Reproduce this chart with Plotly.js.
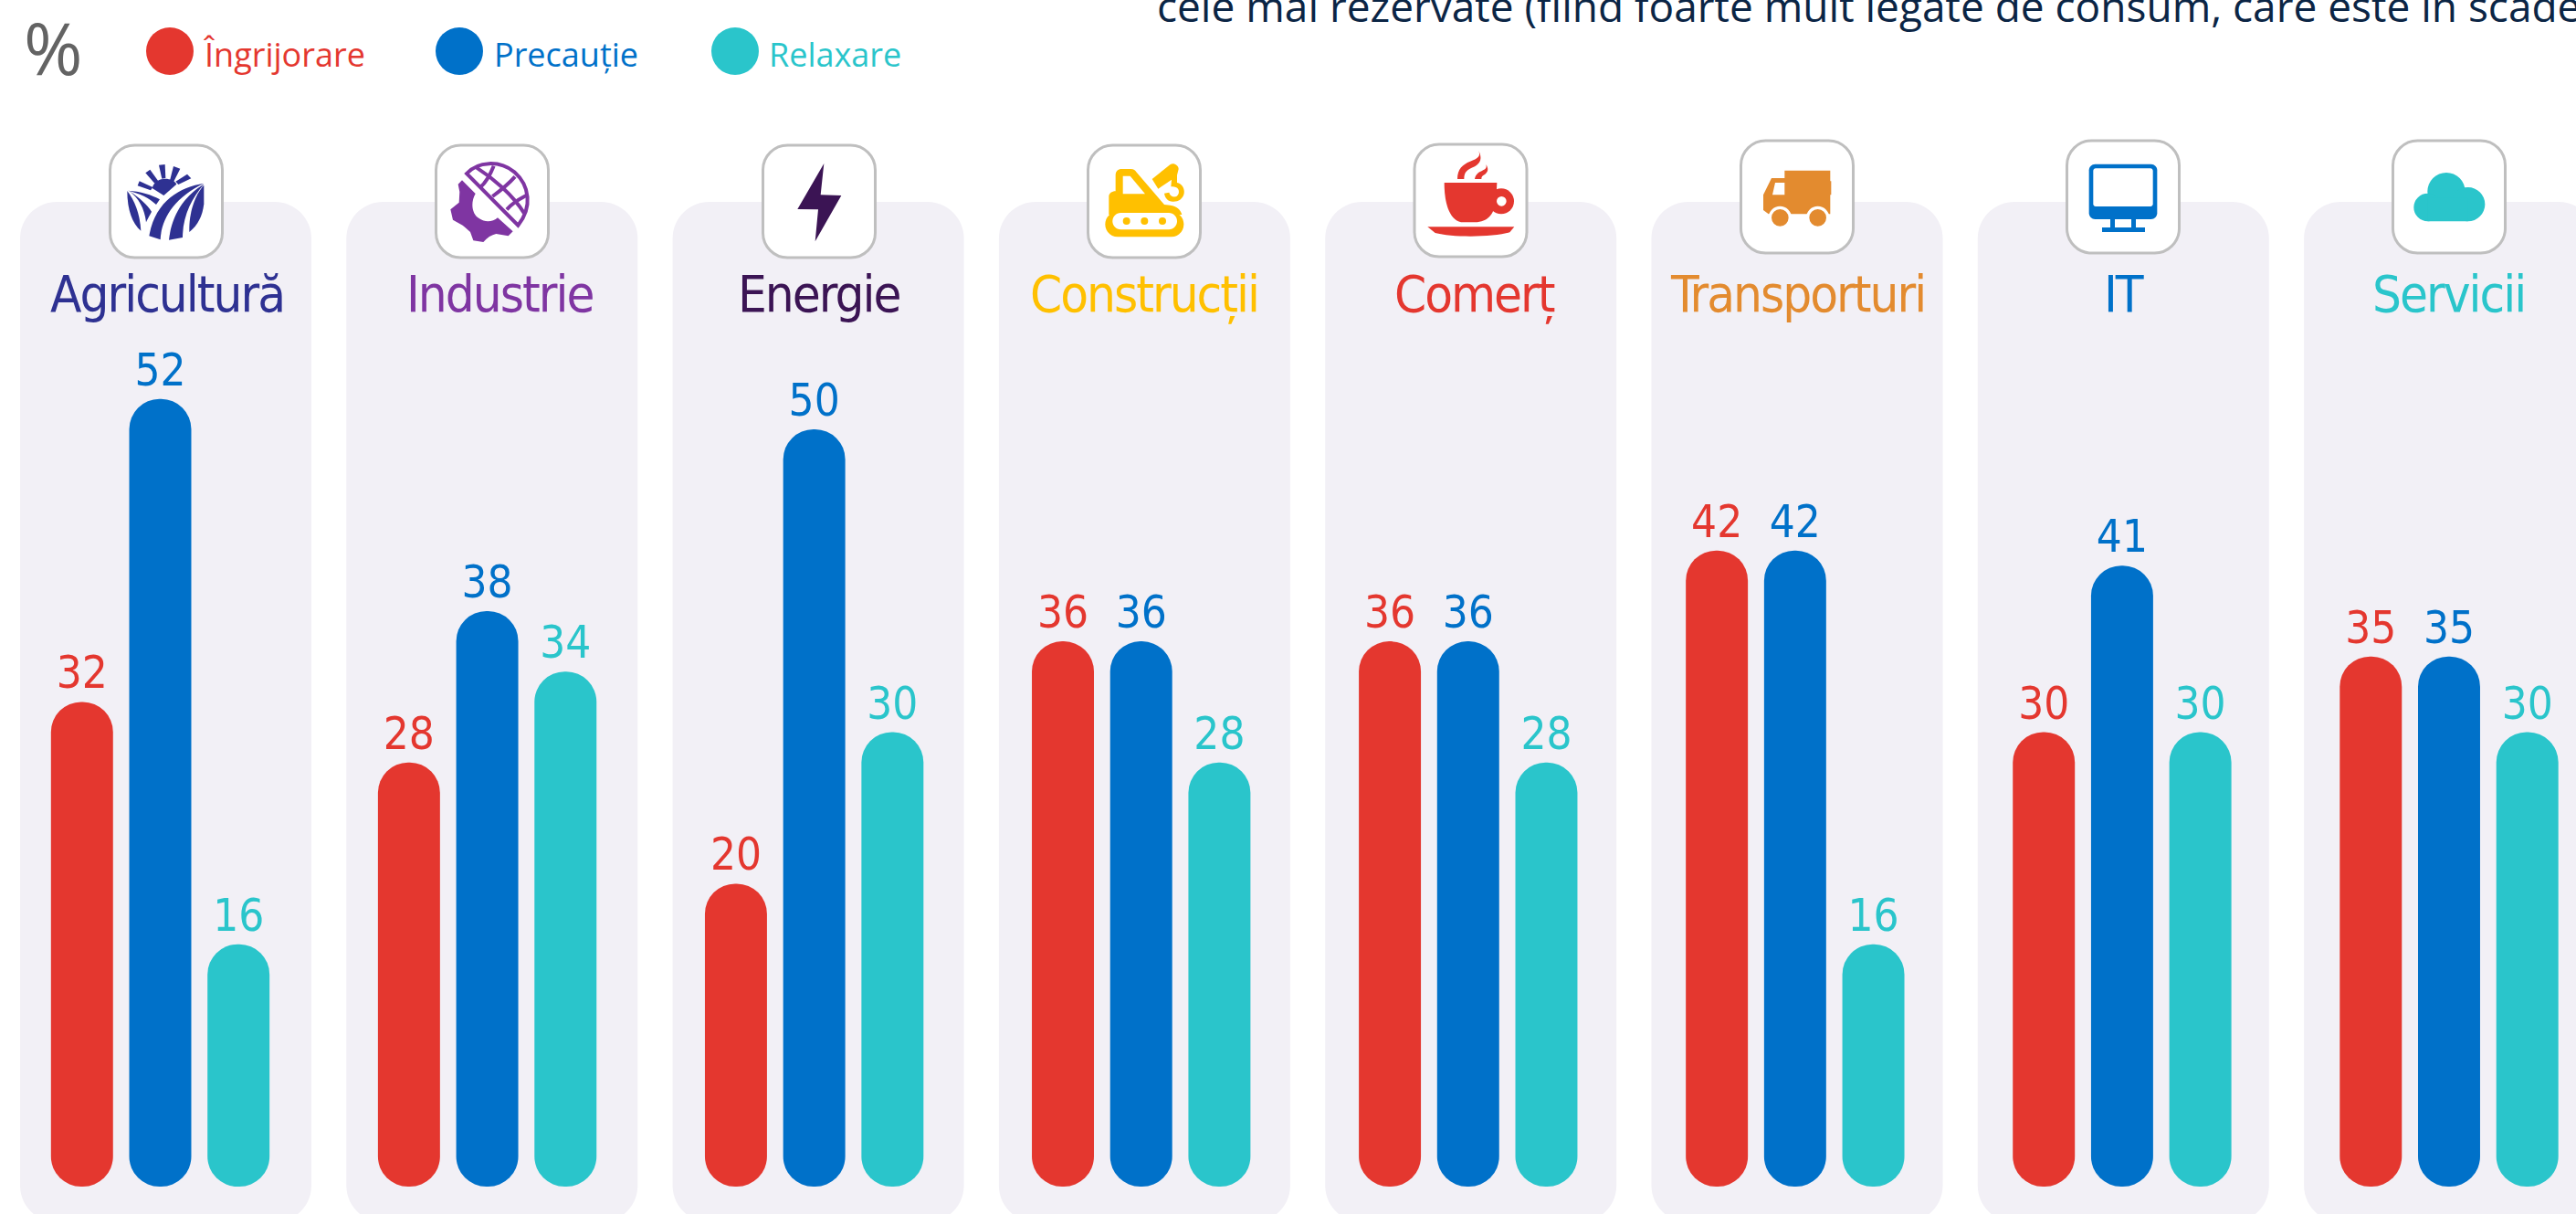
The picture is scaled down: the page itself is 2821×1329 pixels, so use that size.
<!DOCTYPE html>
<html><head><meta charset="utf-8">
<script src="https://cdn.plot.ly/plotly-3.0.0.min.js"></script>
<style>html,body{margin:0;padding:0;background:#fff;overflow:hidden}
.annotation-text[style*="DejaVu"]{letter-spacing:-2px}</style>
</head><body><div id="chart" style="width:2821px;height:1329px"></div>
<script>
const sectors = ["Agricultură","Industrie","Energie","Construcții","Comerț","Transporturi","IT","Servicii"];
const sectorColors = ["#2E3192","#7F35A2","#3B1454","#FFC000","#E4372F","#E38B2F","#0071C9","#2AC5CB"];
const ingrijorare = [32,28,20,36,36,42,30,35];
const precautie = [52,38,50,36,36,42,41,35];
const relaxare = [16,34,30,28,28,16,30,30];
const seriesNames = ["Îngrijorare","Precauție","Relaxare"];
const seriesColors = ["#E4372F","#0071C9","#2AC5CB"];
const headerText = "cele mai rezervate (fiind foarte mult legate de consum, care este în scădere";
const W=2821,H=1329;
const allSeries=[ingrijorare,precautie,relaxare];
const traces=allSeries.map((vals,k)=>({type:'bar',x:sectors,y:vals,base:vals.map(()=>0),name:seriesNames[k],
    marker:{color:seriesColors[k],cornerradius:34,line:{width:0}},text:vals.map(String),textposition:'outside',textangle:0,
    cliponaxis:false,textfont:{family:'"DejaVu Sans Condensed","DejaVu Sans"',size:49,color:seriesColors[k]},showlegend:false,hoverinfo:'x+name+y'}));
const px=x=>x/W, py=y=>1-y/H;
function P(d){let i=0;return d.replace(/-?\d+(\.\d+)?/g,m=>{const v=+m;return ((i++%2)?py(v):px(v)).toFixed(5)})}
function Z(ox,oy,d){let i=0;return P(d.replace(/-?\d+(\.\d+)?/g,m=>{const v=+m/3;return ((i++%2)?v+oy:v+ox).toFixed(2)}))}
function rrs(x0,y0,x1,y1,r){const k=r*0.45;return `M${x0+r} ${y0}L${x1-r} ${y0}C${x1-k} ${y0} ${x1} ${y0+k} ${x1} ${y0+r}L${x1} ${y1-r}C${x1} ${y1-k} ${x1-k} ${y1} ${x1-r} ${y1}L${x0+r} ${y1}C${x0+k} ${y1} ${x0} ${y1-k} ${x0} ${y1-r}L${x0} ${y0+r}C${x0} ${y0+k} ${x0+k} ${y0} ${x0+r} ${y0}Z`}
const shapes=[];const ann=[];
const box=(d,c)=>shapes.push({type:'path',xref:'paper',yref:'paper',layer:'below',path:d,fillcolor:c,line:{width:0}});
const stroke=(d,c,w)=>shapes.push({type:'path',xref:'paper',yref:'paper',layer:'below',path:d,line:{color:c,width:w}});
function circ(cx,cy,r,c){shapes.push({type:'circle',xref:'paper',yref:'paper',layer:'below',x0:px(cx-r),x1:px(cx+r),y0:py(cy+r),y1:py(cy-r),fillcolor:c,line:{width:0}})}
const zc=(ox,oy,cx,cy,r,c)=>circ(ox+cx/3,oy+cy/3,r/3,c);
const boxC=[182,539,897,1253,1610.5,1968,2325,2682];
const boxT=[159,159,159,159,158,154,154,154];
const titleX=[183,547,897,1253,1615,1968,2326,2681];
boxC.forEach((c,i)=>{
  const pc=181.5+357.3*i;
  box(P(rrs(pc-159.5,221,pc+159.5,1338,40)),'#F2F0F6');
  shapes.push({type:'path',xref:'paper',yref:'paper',layer:'below',path:P(rrs(c-61.5,boxT[i],c+61.5,boxT[i]+123,27)),fillcolor:'#fff',line:{color:'#BFBFBF',width:3}});
  ann.push({xref:'paper',yref:'paper',x:px(titleX[i]),y:py(322),xanchor:'center',yanchor:'middle',showarrow:false,text:sectors[i],font:{family:'"DejaVu Sans Condensed","DejaVu Sans"',size:56,color:sectorColors[i]}});
});
// Agricultură icon
{const c=sectorColors[0],o=[110,150];
 ["M128 145L172 165L165 175L122 160Z","M163 107L190 145L178 152L148 118Z","M192 92L212 90L214 135L202 137Z","M240 96L262 104L240 148L228 143Z","M285 122L298 136L256 156L247 146Z",
  "M170 168C180 130 235 130 250 155L208 192Z",
  "M88 177C110 205 130 250 133 308C105 285 88 240 88 177Z",
  "M95 178C125 200 145 235 150 280C158 262 165 252 168 245C155 225 130 200 95 178Z",
  "M90 176C130 178 170 190 195 205L183 222C160 200 130 185 90 176Z",
  "M340 152C260 165 180 210 160 325L197 337C200 270 240 200 340 152Z",
  "M340 155C280 190 235 250 225 338L270 330C270 260 300 200 340 155Z",
  "M340 158L340 220C335 260 320 290 292 312C290 250 310 190 340 158Z"
 ].forEach(d=>box(Z(o[0],o[1],d),c));}
// Industrie icon
{const c=sectorColors[1],o=[110,150];
 box(Z(o[0],o[1],"M1188 142L1232 186C1215 215 1220 255 1245 268C1265 282 1290 278 1305 265L1355 310L1340 325L1300 318C1285 322 1270 330 1258 345L1225 340L1215 312L1190 290L1158 272L1150 238L1178 215L1180 180L1175 155Z"),c);
 ["M1203 120C1240 80 1310 75 1360 115C1410 160 1420 230 1372 290L1203 120Z","M1292 95C1280 125 1265 150 1248 165","M1362 130C1340 155 1315 175 1288 195","M1403 190C1385 200 1360 210 1335 238","M1235 100C1290 135 1355 190 1392 250"].forEach(d=>stroke(Z(o[0],o[1],d),c,4));
 box(Z(o[0],o[1],"M1200 122L1205 117L1372 285L1367 290Z"),c);}
// Energie icon
box(Z(825,150,"M232 87L221 190L289 192L203 343L213 238L145 237Z"),sectorColors[2]);
// Construcții icon
{const c=sectorColors[3],o=[825,150];
 box(Z(o[0],o[1],"M1168 240L1168 195C1168 185 1178 178 1190 178L1190 125C1190 112 1198 105 1210 105L1240 105C1250 105 1255 110 1258 115L1350 222L1370 224C1390 226 1405 240 1408 255L1168 255Z"),c);
 box(Z(o[0],o[1],"M1214 128L1238 128L1287 187L1214 187Z"),'#fff');
 box(Z(o[0],o[1],rrs(1156,245,1414,328,41)),c);
 box(Z(o[0],o[1],rrs(1180,249,1392,304,27)),'#fff');
 [1226,1285,1344].forEach(x=>zc(o[0],o[1],x,276,12,c));
 box(Z(o[0],o[1],"M1310 138L1370 90C1380 83 1397 92 1397 105L1392 125L1390 130L1330 170Z"),c);
 box(Z(o[0],o[1],"M1375 130L1392 125L1392 150C1408 153 1418 170 1415 185C1412 203 1395 213 1378 212C1362 212 1352 200 1350 185L1366 182C1368 193 1378 198 1388 196C1398 192 1400 180 1396 172C1392 163 1380 162 1372 163Z"),c);}
// Comerț icon
{const c=sectorColors[4],o=[1540,145];
 zc(o[0],o[1],312,226,42,c);
 box(Z(o[0],o[1],"M125 165L298 165L295 230C285 270 270 292 225 295L180 295C140 285 125 230 125 165Z"),c);
 zc(o[0],o[1],313,226,16,'#fff');
 box(Z(o[0],o[1],"M70 310L355 310L340 328C280 345 150 345 95 330Z"),c);
 box(Z(o[0],o[1],"M168 153C168 120 185 105 210 95C235 85 245 80 238 60C250 85 245 100 225 112C200 122 190 130 190 153Z"),c);
 box(Z(o[0],o[1],"M225 153C228 135 240 130 250 125C262 120 265 115 262 105C272 120 268 130 258 138C250 142 247 145 247 153Z"),c);}
// Transporturi icon
{const c=sectorColors[5],o=[1540,145];
 box(Z(o[0],o[1],"M1243 125L1393 125L1393 160L1396 160L1396 205L1393 205L1393 268L1190 268L1173 255L1173 205L1200 150L1243 150Z"),c);
 box(Z(o[0],o[1],"M1212 165L1243 165L1243 205L1203 205Z"),'#fff');
 [1228,1352].forEach(x=>{zc(o[0],o[1],x,280,38,'#fff');zc(o[0],o[1],x,280,28,c);});}
// IT icon
{const c=sectorColors[6],o=[2255,145];
 box(Z(o[0],o[1],rrs(98,104,322,285,20)),c);
 box(Z(o[0],o[1],rrs(112,118,308,243,8)),'#fff');
 box(Z(o[0],o[1],"M168 285L183 285L183 312L168 312Z"),c);
 box(Z(o[0],o[1],"M237 285L252 285L252 312L237 312Z"),c);
 box(Z(o[0],o[1],"M141 312L282 312L282 327L141 327Z"),c);}
// Servicii icon
{const c=sectorColors[7],o=[2255,145];
 zc(o[0],o[1],1272,194,62,c);zc(o[0],o[1],1211,246,46,c);zc(o[0],o[1],1343,236,56,c);
 box(Z(o[0],o[1],"M1211 215L1343 215L1343 292L1211 292Z"),c);}
// Legend
const legC=[186,503,805], legX=[221,539,840];
seriesNames.forEach((n,k)=>{
  circ(legC[k],56,26,seriesColors[k]);
  ann.push({xref:'paper',yref:'paper',x:px(legX[k]),y:py(60),xanchor:'left',yanchor:'middle',showarrow:false,text:n,font:{family:'"Open Sans"',size:36,color:seriesColors[k]}});
});
ann.push({xref:'paper',yref:'paper',x:px(24),y:py(52),xanchor:'left',yanchor:'middle',showarrow:false,text:'%',font:{family:'"Open Sans"',size:78,color:'#636363'}});
ann.push({xref:'paper',yref:'paper',x:px(1265),y:py(6),xanchor:'left',yanchor:'middle',showarrow:false,text:headerText,font:{family:'"Open Sans"',size:46,color:'#0B2545'}});
const layout={width:W,height:H,margin:{l:0,r:0,t:0,b:0},paper_bgcolor:'#fff',plot_bgcolor:'rgba(0,0,0,0)',
 barmode:'group',bargap:0.282,bargroupgap:0.207,showlegend:false,
 xaxis:{visible:false,type:'category',categoryorder:'array',categoryarray:sectors,range:[-175.5/358.07,(W-175.5)/358.07]},
 yaxis:{visible:false,range:[-30/16.58,1299/16.58],zeroline:false},shapes,annotations:ann};
Plotly.newPlot('chart',traces,layout,{displayModeBar:false});
</script></body></html>
